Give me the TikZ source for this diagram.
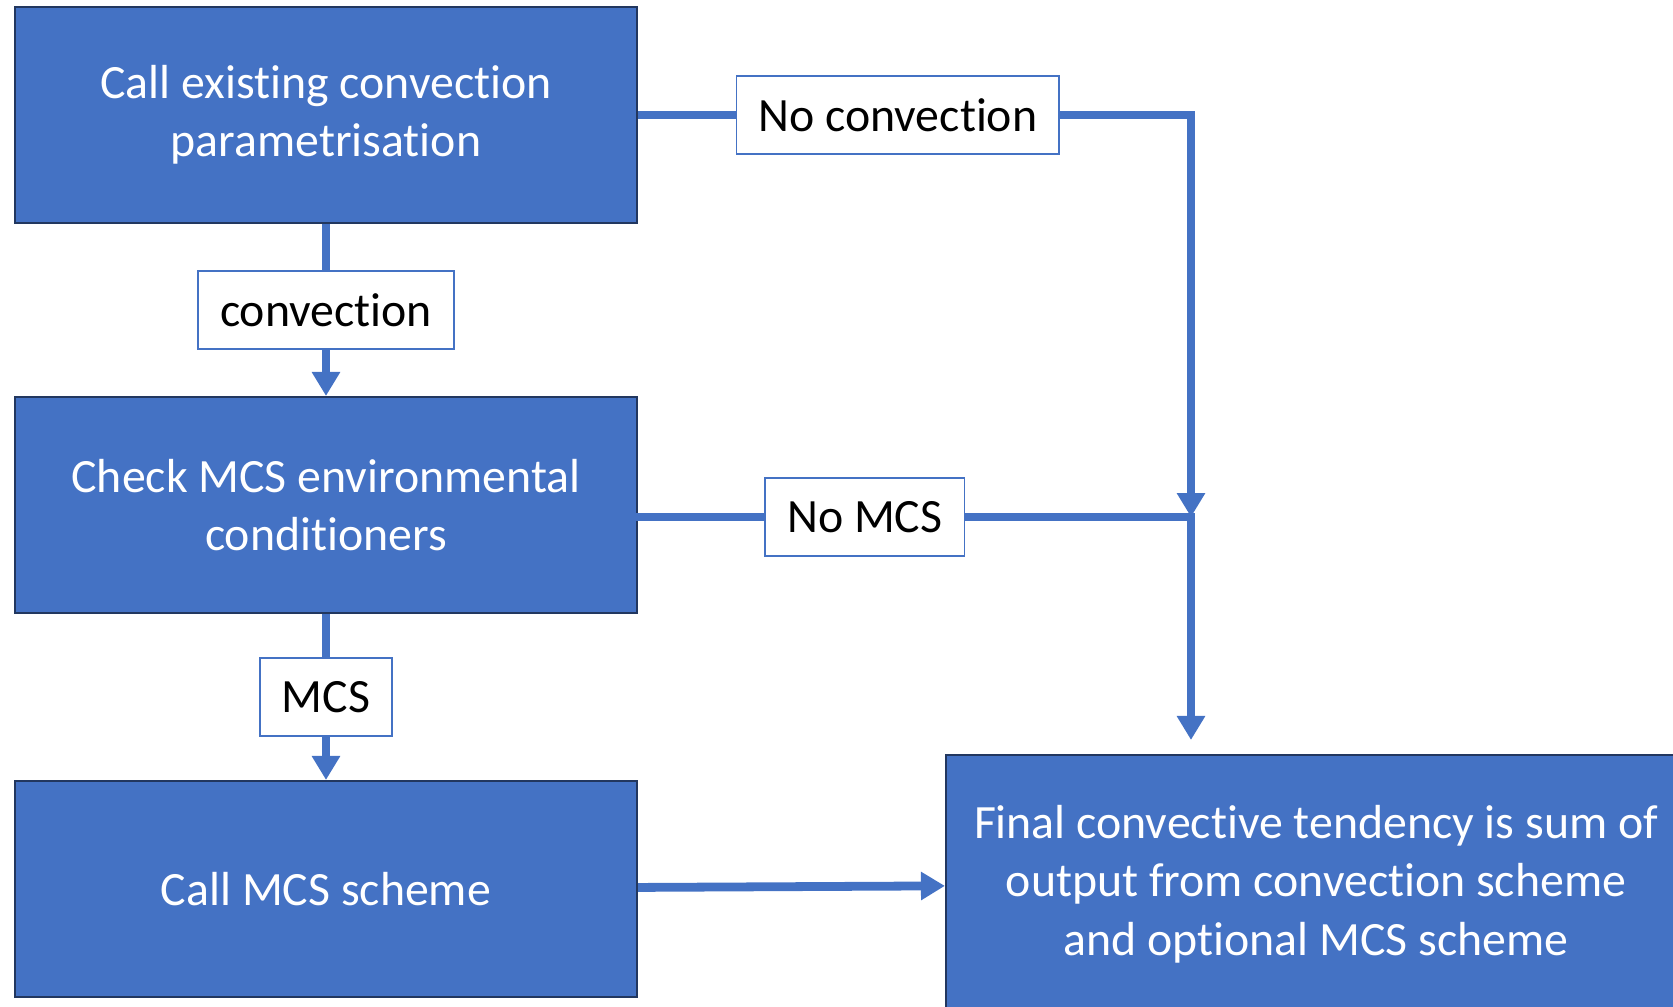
\documentclass[tikz,border=0pt]{standalone}
\usepackage{fontspec}
\setmainfont{Carlito}[Ligatures=NoCommon]
\usepackage{tikz}
\usetikzlibrary{shapes,arrows.meta}
\definecolor{boxblue}{HTML}{4472C4}
\definecolor{boxedge}{HTML}{22375F}

\begin{document}
\begin{tikzpicture}[node distance=3.87cm, >={Triangle[width=0.27cm,length=0.24cm]}]
    \tikzstyle{block} = [rectangle, draw=boxedge, line width=0.6pt, fill=boxblue, text=white,
        minimum width=6.22cm, minimum height=2.16cm, align=center,
        font={\fontsize{13.6}{16.6}\selectfont}]
    \tikzstyle{tag} = [rectangle, draw=boxblue, line width=0.45pt, fill=white, text=black,
        inner xsep=0.22cm, minimum height=0.78cm, font={\fontsize{13.6}{16.6}\selectfont}]
    \tikzstyle{line} = [draw=boxblue, line width=2.5pt, ->]

    \useasboundingbox (0,0) rectangle (16.73,-10.06);
    \clip (0,0) rectangle (16.73,-10.06);

    \node [block] at (3.26,-1.15) (existing) {Call existing convection\\parametrisation};
    \node [block, below of=existing, node distance=3.9cm] (check) {Check MCS environmental\\conditioners};
    \node [block, below of=check, node distance=3.84cm] (scheme) {Call MCS scheme};
    \node [block, minimum width=7.4cm, minimum height=2.58cm] at (13.16,-8.84) (final)
        {Final convective tendency is sum of\\output from convection scheme\\and optional MCS scheme};
    \coordinate (merge) at (11.91,-5.17);

    \path [line] (existing) -- node[tag] (convtag) {convection} (check);
    \path [line] (check) -- node[tag] (mcstag) {MCS} (scheme);
    \path [line] (existing.east) -| node[tag, pos=0.235] (noconvtag) {No convection} (merge);
    \path [draw=boxblue, line width=2.5pt, line cap=rect] (check.east |- merge)
        -- node[tag, pos=0.41] (nomcstag) {No MCS} (merge);
    \path [line, shorten >=0.14cm] (merge) -- (merge |- final.north);
    \path [line] (scheme) -- (final);
\end{tikzpicture}
\end{document}
